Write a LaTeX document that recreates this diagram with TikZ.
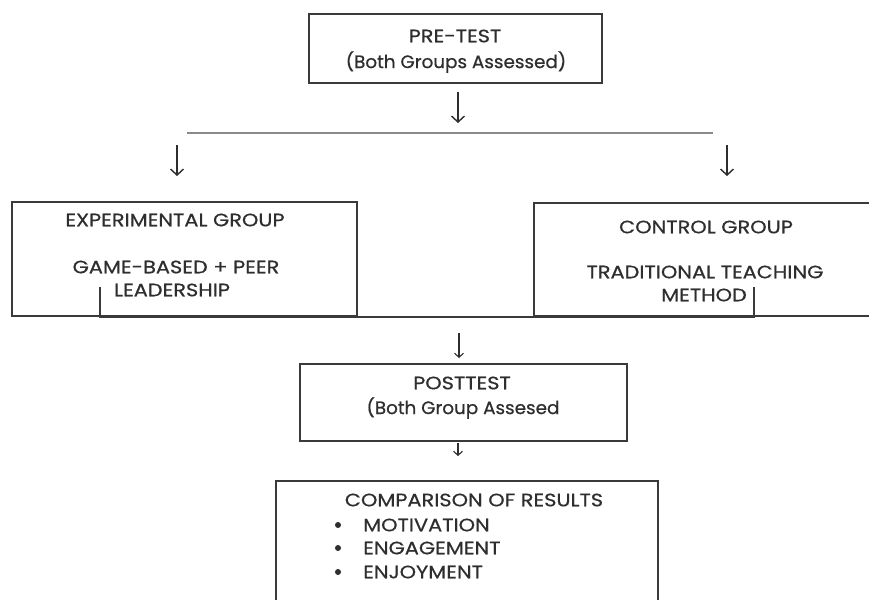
\documentclass[tikz,border=0pt]{standalone}
\usepackage{fontspec}
\setmainfont[FakeStretch=1.16,FakeBold=0.6]{Poppins}
\newfontfamily\lcfont[FakeStretch=1.02,FakeBold=0.6]{Poppins}
\usetikzlibrary{arrows.meta}
\definecolor{txt}{HTML}{2E2E2E}
\definecolor{boxc}{HTML}{3A3A3A}
\definecolor{linec}{HTML}{8A8A8A}
\tikzset{
  box/.style={draw=boxc, line width=1.3pt, rectangle, inner sep=0pt},
  lbl/.style={text=txt, font=\fontsize{18}{21}\selectfont, inner sep=0pt, anchor=center},
  lbllc/.style={lbl, font=\lcfont\fontsize{18}{21}\selectfont},
  darr/.style={draw=txt, line width=1.4pt, -{Straight Barb[length=6pt,width=13pt,line width=1.4pt]}},
  sarr/.style={draw=txt, line width=1.1pt, -{Straight Barb[length=4pt,width=9pt,line width=1.1pt]}},
  conn/.style={draw=linec, line width=1.2pt},
}
\begin{document}
\begin{tikzpicture}[x=1pt,y=-1pt]
\useasboundingbox (0,0) rectangle (869,599);
\clip (0,0) rectangle (869,599);
\fill[white] (0,0) rectangle (869,599);
% boxes
\node[box, minimum width=293pt, minimum height=69pt] (pre) at (455.5,48.5) {};
\node[box, minimum width=345pt, minimum height=114pt] (exp) at (184.5,259) {};
\node[box, minimum width=360pt, minimum height=113pt] (ctl) at (714,259.5) {};
\node[box, minimum width=327pt, minimum height=77pt] (post) at (463.5,402.5) {};
\node[box, minimum width=382pt, minimum height=140pt] (cmp) at (467,551) {};
% texts
\node[lbl] (preA) at (455,36) {PRE-TEST};
\node[lbllc] (preB) at (456,62) {(Both Groups Assessed)};
\node[lbl] (expA) at (175,220) {EXPERIMENTAL GROUP};
\node[lbl] (expB) at (176,267) {GAME-BASED + PEER};
\node[lbl] (expC) at (172,290) {LEADERSHIP};
\node[lbl] (ctlA) at (706,227) {CONTROL GROUP};
\node[lbl] (ctlB) at (705,272) {TRADITIONAL TEACHING};
\node[lbl] (ctlC) at (704,295) {METHOD};
\node[lbl] (postA) at (462,383) {POSTTEST};
\node[lbllc] (postB) at (463,408) {(Both Group Assesed};
\node[lbl] (cmpA) at (474,500) {COMPARISON OF RESULTS};
\node[lbl, anchor=west] (cmp1) at (363,525) {MOTIVATION};
\node[lbl, anchor=west] (cmp2) at (363,548) {ENGAGEMENT};
\node[lbl, anchor=west] (cmp3) at (363,572) {ENJOYMENT};
\fill[txt] (338,525) circle (3pt);
\fill[txt] (338,548) circle (3pt);
\fill[txt] (338,572) circle (3pt);
% connector coordinates
\coordinate (a1s) at (458,92);
\coordinate (a1e) at (458,123);
\coordinate (hl) at (187,133);
\coordinate (hr) at (713,133);
\coordinate (a2s) at (177,145);
\coordinate (a2e) at (177,176);
\coordinate (a3s) at (727,145);
\coordinate (a3e) at (727,176);
\coordinate (m1) at (100,287);
\coordinate (m2) at (100,317);
\coordinate (m3) at (754,317);
\coordinate (m4) at (754,287);
\coordinate (a4s) at (459,333);
\coordinate (a4e) at (459,358);
\coordinate (a5s) at (458,443);
\coordinate (a5e) at (458,456);
% connectors
\draw[darr] (a1s) -- (a1e);
\draw[conn] (hl) -- (hr);
\draw[darr] (a2s) -- (a2e);
\draw[darr] (a3s) -- (a3e);
\draw[conn, draw=boxc] (m1) -- (m2) -- (m3) -- (m4);
\draw[sarr] (a4s) -- (a4e);
\draw[sarr] (a5s) -- (a5e);
\end{tikzpicture}
\end{document}
